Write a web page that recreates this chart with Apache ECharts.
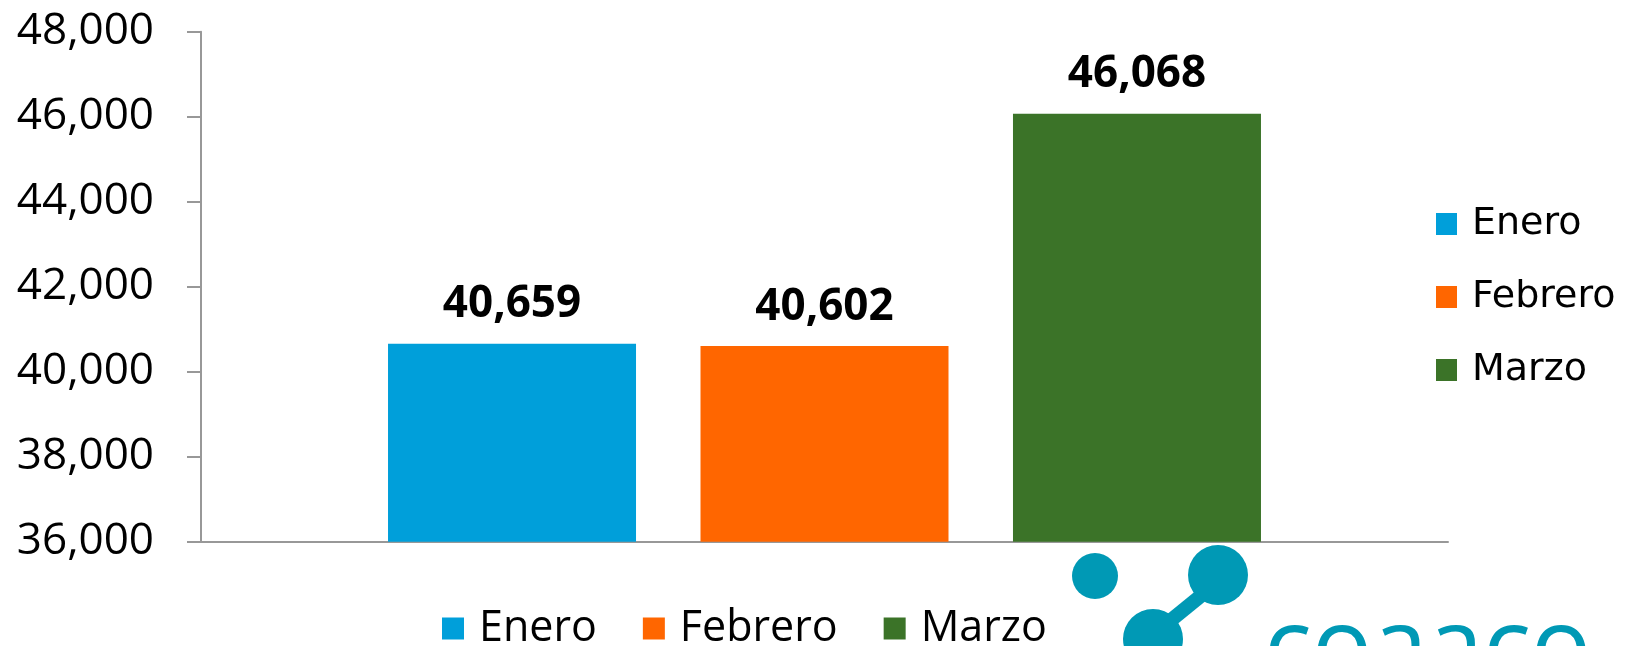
<!DOCTYPE html>
<html>
<head>
<meta charset="utf-8">
<script src="https://cdn.jsdelivr.net/npm/echarts@6/dist/echarts.min.js"></script>
<style>
html,body{margin:0;padding:0;background:#fff;}
#chart{width:1627px;height:646px;}
</style>
</head>
<body>
<div id="chart"></div>
<script>
// ---- data ----
var months = ['Enero', 'Febrero', 'Marzo'];
var totals = [40659, 40602, 46068];
var colors = ['#009FDA', '#FF6600', '#3B7328'];
var yTicks = [36000, 38000, 40000, 42000, 44000, 46000, 48000];

function fmt(v) { return String(v).replace(/\B(?=(\d{3})+(?!\d))/g, ','); }

var chart = echarts.init(document.getElementById('chart'), null, {renderer: 'canvas'});

var series = months.map(function (m, i) {
  return {
    name: m,
    type: 'bar',
    data: [totals[i]],
    barWidth: 248,
    barGap: '26%',
    itemStyle: {color: colors[i]},
    label: {
      show: true,
      position: 'top',
      distance: 17,
      formatter: function (p) { return fmt(p.value); },
      fontFamily: 'Open Sans',
      fontWeight: 'bold',
      fontSize: 44,
      color: '#000'
    }
  };
});

var option = {
  backgroundColor: '#fff',
  animation: false,
  grid: {left: 201, right: 179, top: 31.7, bottom: 104.3},
  xAxis: {
    type: 'category',
    data: [''],
    axisLine: {show: true, lineStyle: {color: '#989898', width: 2}},
    axisTick: {show: false},
    axisLabel: {show: false}
  },
  yAxis: {
    type: 'value',
    min: yTicks[0],
    max: yTicks[yTicks.length - 1],
    interval: yTicks[1] - yTicks[0],
    axisLine: {show: true, lineStyle: {color: '#989898', width: 2}},
    axisTick: {show: true, length: 14, lineStyle: {color: '#989898', width: 2}},
    splitLine: {show: false},
    axisLabel: {
      margin: 47,
      formatter: function (v) { return fmt(v); },
      fontFamily: 'Open Sans',
      fontSize: 44,
      color: '#000'
    }
  },
  legend: [
    {
      data: months,
      orient: 'horizontal',
      left: 442,
      top: 607,
      padding: 0,
      itemWidth: 22,
      itemHeight: 22,
      itemGap: 46,
      icon: 'rect',
      textStyle: {fontFamily: 'Open Sans', fontSize: 43, lineHeight: 42, color: '#000', padding: [0, 0, 0, 10]}
    },
    {
      data: months,
      orient: 'vertical',
      left: 1436,
      top: 204,
      padding: 0,
      itemWidth: 21,
      itemHeight: 22,
      itemGap: 33,
      icon: 'rect',
      textStyle: {fontFamily: 'DejaVu Sans', fontSize: 38, lineHeight: 40, color: '#000', padding: [0, 0, 0, 10]}
    }
  ],
  graphic: [
    {type: 'circle', shape: {cx: 1095, cy: 576, r: 23}, style: {fill: '#0099B5'}, silent: true},
    {type: 'circle', shape: {cx: 1218, cy: 575, r: 30}, style: {fill: '#0099B5'}, silent: true},
    {type: 'circle', shape: {cx: 1153, cy: 639, r: 30}, style: {fill: '#0099B5'}, silent: true},
    {type: 'line', shape: {x1: 1208, y1: 590, x2: 1165, y2: 625}, style: {stroke: '#0099B5', lineWidth: 14}, silent: true},
    {type: 'text', style: {x: 1264, y: 702, text: 'coaaco', font: '100px "Open Sans"', fill: '#0099B5', verticalAlign: 'bottom'}, silent: true}
  ],
  series: series
};
chart.setOption(option);
</script>
</body>
</html>
